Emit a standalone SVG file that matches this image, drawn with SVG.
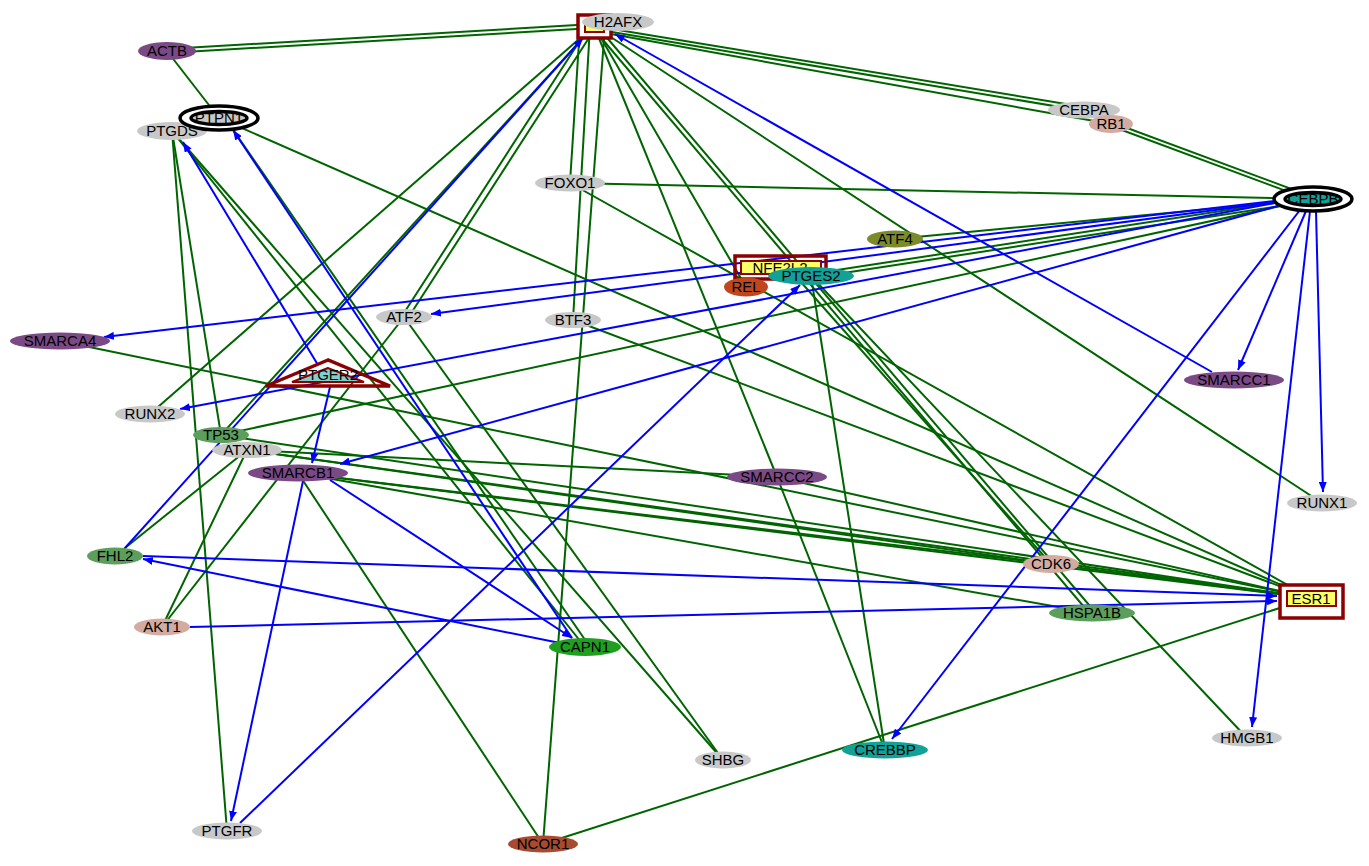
<svg xmlns="http://www.w3.org/2000/svg" width="1369" height="866" viewBox="0 0 1369 866">
<style>
.g{stroke:#006400;stroke-width:2;fill:none}
.b{stroke:#0000ff;stroke-width:2;fill:none;marker-end:url(#ab)}
text{font-family:"Liberation Sans",Arial,sans-serif;font-size:15px;text-anchor:middle;fill:#000}
.grey{fill:#c8c8c8}.pur{fill:#7b4a86}.grn{fill:#5c9e5c}.pink{fill:#d3aba0}.teal{fill:#12a196}
.box{fill:none;stroke:#8b0000;stroke-width:3.5}
.ibox{fill:#ffff66;stroke:#8b0000;stroke-width:2}
</style>
<defs>
<marker id="ab" markerUnits="userSpaceOnUse" markerWidth="11" markerHeight="8" refX="10" refY="4" orient="auto"><path d="M0,0 L10,4 L0,8 z" fill="#0000ff"/></marker>
</defs>
<rect width="1369" height="866" fill="#fff"/>
<g id="edges">
<line class="g" x1="167" y1="49" x2="594" y2="24"/>
<line class="g" x1="167" y1="53" x2="594" y2="28"/>
<line class="g" x1="167" y1="51" x2="219" y2="118"/>
<line class="g" x1="594" y1="26" x2="1084" y2="107"/>
<line class="g" x1="594" y1="29" x2="1084" y2="111"/>
<line class="g" x1="594" y1="31" x2="1111" y2="124"/>
<line class="g" x1="1111" y1="122" x2="1313" y2="197"/>
<line class="g" x1="1111" y1="126" x2="1313" y2="201"/>
<line class="g" x1="594" y1="26" x2="1322" y2="503"/>
<line class="g" x1="594" y1="26" x2="777" y2="477"/>
<line class="g" x1="592" y1="27" x2="1090" y2="614"/>
<line class="g" x1="597" y1="26" x2="1095" y2="612"/>
<line class="g" x1="594" y1="26" x2="746" y2="287"/>
<line class="g" x1="580" y1="26" x2="570" y2="183"/>
<line class="g" x1="590" y1="26" x2="573" y2="320"/>
<line class="g" x1="605" y1="26" x2="543" y2="844"/>
<line class="g" x1="590" y1="25" x2="402" y2="316"/>
<line class="g" x1="596" y1="27" x2="408" y2="318"/>
<line class="g" x1="594" y1="26" x2="150" y2="414"/>
<line class="g" x1="594" y1="26" x2="221" y2="435"/>
<line class="g" x1="570" y1="183" x2="1313" y2="199"/>
<line class="g" x1="570" y1="183" x2="1311" y2="598"/>
<line class="g" x1="219" y1="118" x2="1311" y2="598"/>
<line class="g" x1="811" y1="274" x2="1313" y2="197"/>
<line class="g" x1="811" y1="278" x2="1313" y2="201"/>
<line class="g" x1="895" y1="239" x2="1313" y2="199"/>
<line class="g" x1="221" y1="435" x2="1313" y2="199"/>
<line class="g" x1="811" y1="276" x2="1247" y2="738"/>
<line class="g" x1="811" y1="276" x2="885" y2="750"/>
<line class="g" x1="777" y1="477" x2="885" y2="750"/>
<line class="g" x1="800" y1="281" x2="1051" y2="564"/>
<line class="g" x1="172" y1="131" x2="227" y2="831"/>
<line class="g" x1="172" y1="131" x2="221" y2="435"/>
<line class="g" x1="172" y1="131" x2="585" y2="647"/>
<line class="g" x1="172" y1="131" x2="723" y2="760"/>
<line class="g" x1="225" y1="118" x2="590" y2="647"/>
<line class="g" x1="404" y1="317" x2="723" y2="760"/>
<line class="g" x1="247" y1="450" x2="777" y2="477"/>
<line class="g" x1="247" y1="450" x2="1311" y2="598"/>
<line class="g" x1="247" y1="450" x2="1051" y2="564"/>
<line class="g" x1="221" y1="435" x2="1311" y2="598"/>
<line class="g" x1="298" y1="473" x2="1311" y2="598"/>
<line class="g" x1="298" y1="473" x2="1092" y2="613"/>
<line class="g" x1="298" y1="473" x2="1051" y2="564"/>
<line class="g" x1="60" y1="341" x2="1311" y2="598"/>
<line class="g" x1="573" y1="320" x2="1311" y2="598"/>
<line class="g" x1="777" y1="477" x2="1311" y2="598"/>
<line class="g" x1="1051" y1="564" x2="1311" y2="598"/>
<line class="g" x1="543" y1="844" x2="1311" y2="598"/>
<line class="g" x1="115" y1="556" x2="247" y2="450"/>
<line class="g" x1="162" y1="627" x2="247" y2="450"/>
<line class="g" x1="404" y1="317" x2="162" y2="627"/>
<line class="g" x1="298" y1="473" x2="543" y2="844"/>
<line class="b" x1="1275" y1="201" x2="104" y2="337"/>
<line class="b" x1="1275" y1="202" x2="431" y2="314"/>
<line class="b" x1="1275" y1="203" x2="180" y2="409"/>
<line class="b" x1="1278" y1="206" x2="340" y2="464"/>
<line class="b" x1="1306" y1="211" x2="1238" y2="370"/>
<line class="b" x1="1316" y1="211" x2="1323" y2="492"/>
<line class="b" x1="1310" y1="211" x2="1252" y2="727"/>
<line class="b" x1="1300" y1="210" x2="892" y2="739"/>
<line class="b" x1="1212" y1="372" x2="615" y2="34"/>
<line class="b" x1="125" y1="548" x2="583" y2="38"/>
<line class="b" x1="318" y1="365" x2="183" y2="142"/>
<line class="b" x1="572" y1="638" x2="233" y2="130"/>
<line class="b" x1="330" y1="387" x2="312" y2="463"/>
<line class="b" x1="303" y1="481" x2="231" y2="821"/>
<line class="b" x1="330" y1="480" x2="572" y2="638"/>
<line class="b" x1="240" y1="823" x2="800" y2="285"/>
<line class="b" x1="560" y1="643" x2="143" y2="559"/>
<line class="b" x1="143" y1="556" x2="1277" y2="596"/>
<line class="b" x1="190" y1="627" x2="1277" y2="601"/>
</g>
<g id="n-H2AFX-box"><rect x="578" y="15" width="33" height="23" fill="#fff" stroke="#8b0000" stroke-width="3.5"/><rect x="585" y="21" width="19" height="11" class="ibox"/></g>
<g id="n-H2AFX"><ellipse cx="618" cy="22" rx="36" ry="9" class="grey"/><text x="618" y="27">H2AFX</text></g>
<g id="n-ACTB"><ellipse cx="167" cy="51" rx="29" ry="9" class="pur"/><text x="167" y="56">ACTB</text></g>
<g id="n-PTGDS"><ellipse cx="172" cy="131" rx="35" ry="9" class="grey"/><text x="172" y="136">PTGDS</text></g>
<g id="n-PTPN1"><ellipse cx="219" cy="118" rx="39" ry="12" fill="#fff" stroke="#000" stroke-width="3.5"/><ellipse cx="219" cy="118" rx="28" ry="6.5" fill="#c8c8c8" stroke="#000" stroke-width="3.5"/><text x="219" y="123">PTPN1</text></g>
<g id="n-CEBPA"><ellipse cx="1084" cy="110" rx="36" ry="8.5" class="grey"/><text x="1084" y="115">CEBPA</text></g>
<g id="n-RB1"><ellipse cx="1111" cy="124" rx="22" ry="9" class="pink"/><text x="1111" y="129">RB1</text></g>
<g id="n-FOXO1"><ellipse cx="570" cy="183" rx="35" ry="8.5" class="grey"/><text x="570" y="188">FOXO1</text></g>
<g id="n-CEBPB"><ellipse cx="1313" cy="199" rx="39" ry="12" fill="#fff" stroke="#000" stroke-width="3.5"/><ellipse cx="1313" cy="199" rx="28" ry="6.5" class="teal" stroke="#000" stroke-width="3.5"/><text x="1313" y="204">CEBPB</text></g>
<g id="n-ATF4"><ellipse cx="895" cy="239" rx="28" ry="8.5" fill="#7b8b2b"/><text x="895" y="244">ATF4</text></g>
<g id="n-NFE2L2"><rect x="735" y="256" width="91" height="23" class="box"/><rect x="741" y="261" width="80" height="13" class="ibox"/><text x="780" y="273">NFE2L2</text></g>
<g id="n-REL"><ellipse cx="746" cy="287" rx="22" ry="9.5" fill="#c2461d"/><text x="746" y="292">REL</text></g>
<g id="n-PTGES2"><ellipse cx="811" cy="276" rx="43" ry="9" class="teal"/><text x="811" y="281">PTGES2</text></g>
<g id="n-ATF2"><ellipse cx="404" cy="317" rx="28" ry="8" class="grey"/><text x="404" y="322">ATF2</text></g>
<g id="n-BTF3"><ellipse cx="573" cy="320" rx="28" ry="8" class="grey"/><text x="573" y="325">BTF3</text></g>
<g id="n-SMARCA4"><ellipse cx="60" cy="341" rx="50" ry="8.5" class="pur"/><text x="60" y="346">SMARCA4</text></g>
<g id="n-PTGER2"><polygon points="328,360 266,386 390,386" fill="none" stroke="#8b0000" stroke-width="3.5"/><polygon points="328,368 292,382 364,382" fill="#7fd0cc" stroke="#8b0000" stroke-width="2"/><text x="328" y="380">PTGER2</text></g>
<g id="n-SMARCC1"><ellipse cx="1234" cy="380" rx="50" ry="8.5" class="pur"/><text x="1234" y="385">SMARCC1</text></g>
<g id="n-RUNX2"><ellipse cx="150" cy="414" rx="35" ry="8.5" class="grey"/><text x="150" y="419">RUNX2</text></g>
<g id="n-TP53"><ellipse cx="221" cy="435" rx="28" ry="8" class="grn"/><text x="221" y="440">TP53</text></g>
<g id="n-ATXN1"><ellipse cx="247" cy="450" rx="35" ry="8" class="grey"/><text x="247" y="455">ATXN1</text></g>
<g id="n-SMARCB1"><ellipse cx="298" cy="473" rx="50" ry="8.5" class="pur"/><text x="298" y="478">SMARCB1</text></g>
<g id="n-SMARCC2"><ellipse cx="777" cy="477" rx="50" ry="8.5" class="pur"/><text x="777" y="482">SMARCC2</text></g>
<g id="n-RUNX1"><ellipse cx="1322" cy="503" rx="35" ry="8.5" class="grey"/><text x="1322" y="508">RUNX1</text></g>
<g id="n-FHL2"><ellipse cx="115" cy="556" rx="28" ry="8.5" class="grn"/><text x="115" y="561">FHL2</text></g>
<g id="n-CDK6"><ellipse cx="1051" cy="564" rx="28" ry="9" class="pink"/><text x="1051" y="569">CDK6</text></g>
<g id="n-ESR1"><rect x="1280" y="585" width="63" height="33" fill="#fff" stroke="#8b0000" stroke-width="3.5"/><rect x="1287" y="591" width="49" height="15" class="ibox"/><text x="1311" y="604">ESR1</text></g>
<g id="n-HSPA1B"><ellipse cx="1092" cy="613" rx="43" ry="8.5" class="grn"/><text x="1092" y="618">HSPA1B</text></g>
<g id="n-AKT1"><ellipse cx="162" cy="627" rx="28" ry="8.5" class="pink"/><text x="162" y="632">AKT1</text></g>
<g id="n-CAPN1"><ellipse cx="585" cy="647" rx="36" ry="9" fill="#1f9e1f"/><text x="585" y="652">CAPN1</text></g>
<g id="n-CREBBP"><ellipse cx="885" cy="750" rx="43" ry="8.5" class="teal"/><text x="885" y="755">CREBBP</text></g>
<g id="n-HMGB1"><ellipse cx="1247" cy="738" rx="35" ry="8.5" class="grey"/><text x="1247" y="743">HMGB1</text></g>
<g id="n-SHBG"><ellipse cx="723" cy="760" rx="28" ry="8.5" class="grey"/><text x="723" y="765">SHBG</text></g>
<g id="n-PTGFR"><ellipse cx="227" cy="831" rx="35" ry="8.5" class="grey"/><text x="227" y="836">PTGFR</text></g>
<g id="n-NCOR1"><ellipse cx="543" cy="844" rx="35" ry="8.5" fill="#a84a30"/><text x="543" y="849">NCOR1</text></g>
</svg>
